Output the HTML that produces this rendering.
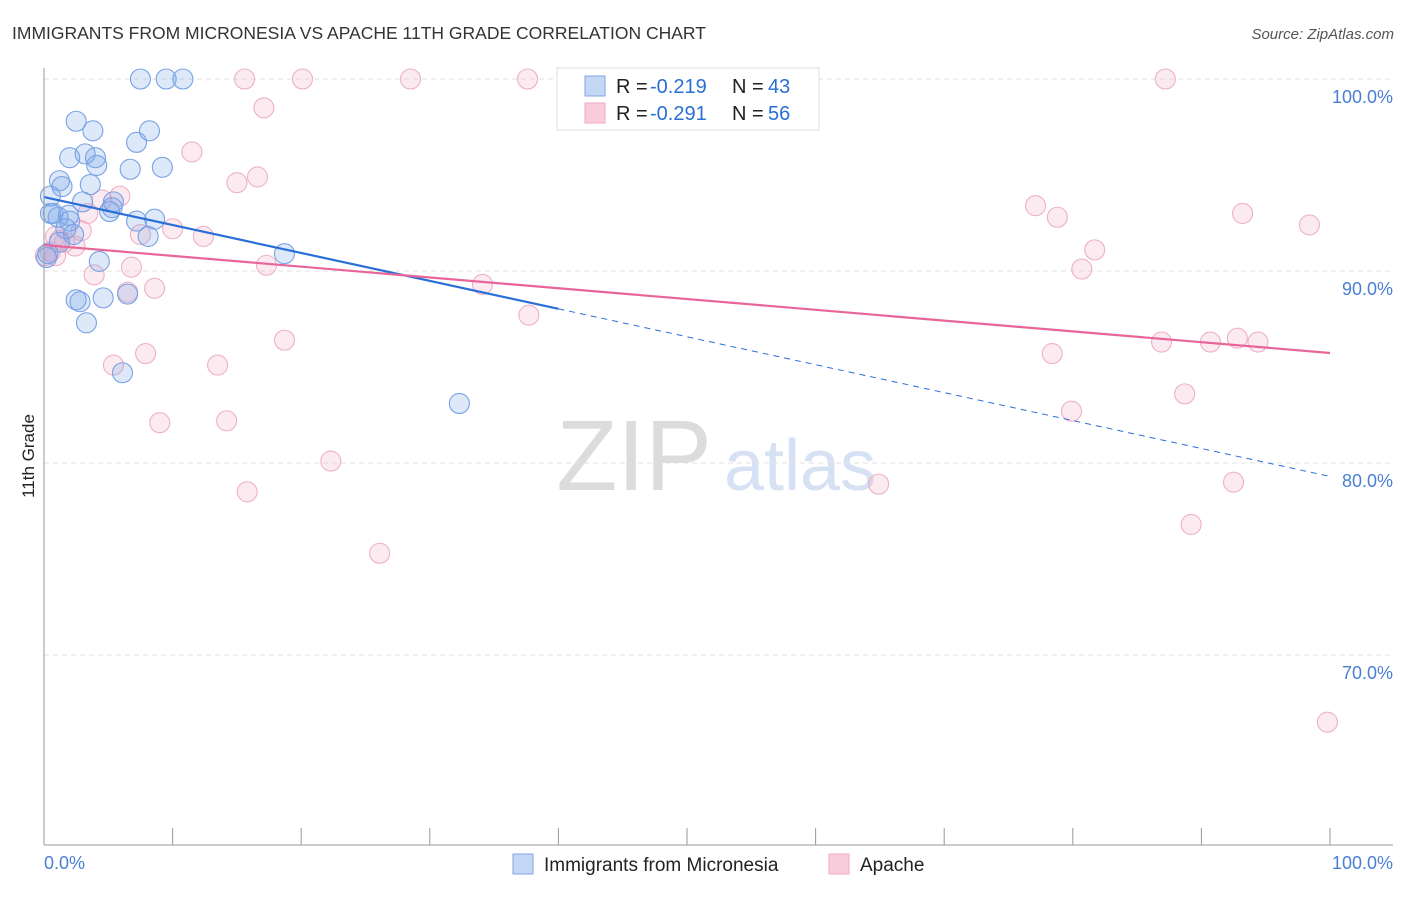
<!DOCTYPE html>
<html><head><meta charset="utf-8"><style>
body{margin:0;background:#fff;font-family:"Liberation Sans",sans-serif;}
svg text{font-family:"Liberation Sans",sans-serif;}
</style></head><body>
<svg id="c" width="1406" height="892">
<text x="12" y="39" font-size="17.5" fill="#333">IMMIGRANTS FROM MICRONESIA VS APACHE 11TH GRADE CORRELATION CHART</text>
<text x="1394" y="39" font-size="15" fill="#555" font-style="italic" text-anchor="end">Source: ZipAtlas.com</text>
<text x="634" y="490" font-size="100" fill="#dcdcdc" font-family="Liberation Serif,serif" text-anchor="middle">ZIP</text>
<text x="800" y="490" font-size="72" fill="#d6e2f3" text-anchor="middle">atlas</text>
<g id="grid"></g><g id="pts"></g><g id="lines"></g>
<line x1="44" y1="68" x2="44" y2="845" stroke="#999"/>
<line x1="44" y1="845" x2="1393" y2="845" stroke="#999"/>
<text transform="translate(34,456) rotate(-90)" font-size="17" fill="#222" text-anchor="middle">11th Grade</text>
<text x="44" y="869" font-size="18" fill="#4a7fd4">0.0%</text>
<text x="1393" y="869" font-size="18" fill="#4a7fd4" text-anchor="end">100.0%</text>
<g>
<rect x="557" y="68" width="262" height="62" fill="#fff" stroke="#ddd"/>
<rect x="585" y="76" width="20" height="20" fill="#c4d8f6" stroke="#7fa6e6"/>
<rect x="585" y="103" width="20" height="20" fill="#f9ccdb" stroke="#eeabc3"/>
<text x="616" y="93" font-size="20" fill="#222">R =</text>
<text x="650" y="93" font-size="20" fill="#2a6fd6">-0.219</text>
<text x="732" y="93" font-size="20" fill="#222">N =</text>
<text x="768" y="93" font-size="20" fill="#2a6fd6">43</text>
<text x="616" y="120" font-size="20" fill="#222">R =</text>
<text x="650" y="120" font-size="20" fill="#2a6fd6">-0.291</text>
<text x="732" y="120" font-size="20" fill="#222">N =</text>
<text x="768" y="120" font-size="20" fill="#2a6fd6">56</text>
</g>
<g>
<rect x="513" y="854" width="20" height="20" fill="#c4d8f6" stroke="#7fa6e6"/>
<text x="544" y="871" font-size="19" fill="#222">Immigrants from Micronesia</text>
<rect x="829" y="854" width="20" height="20" fill="#f9ccdb" stroke="#eeabc3"/>
<text x="860" y="871" font-size="19" fill="#222">Apache</text>
</g>
</svg>
<script>
const yTicks=[100,90,80,70];
const yTickLabels=["100.0%","90.0%","80.0%","70.0%"];
const blueX=[7.5,9.5,10.8,2.5,3.8,8.2,7.2,3.2,2.0,4.0,4.1,6.7,9.2,1.2,1.4,3.6,0.5,3.0,5.4,5.1,0.7,1.1,1.9,2.0,1.7,7.2,8.6,2.3,8.1,1.2,18.7,4.3,0.2,0.3,2.5,2.8,4.6,6.5,3.3,6.1,32.3,5.3,0.5];
const blueY=[100,100,100,97.8,97.3,97.3,96.7,96.1,95.9,95.9,95.5,95.3,95.4,94.7,94.4,94.5,93.9,93.6,93.6,93.1,93.0,92.8,92.9,92.6,92.2,92.6,92.7,91.9,91.8,91.5,90.9,90.5,90.7,90.9,88.5,88.4,88.6,88.8,87.3,84.7,83.1,93.3,93.0];
const pinkX=[15.6,20.1,28.5,37.6,87.2,17.1,11.5,16.6,15.0,5.9,4.5,3.4,10.0,12.4,7.5,2.9,0.9,1.6,2.4,0.5,0.9,6.8,3.9,17.3,8.6,6.5,34.1,37.7,18.7,7.9,5.4,13.5,9.0,14.2,22.3,15.8,26.1,64.9,77.1,78.8,81.7,80.7,93.2,98.4,78.4,86.9,90.7,92.8,94.4,79.9,88.7,92.5,89.2,99.8,1.2,0.1];
const pinkY=[100,100,100,100,100,98.5,96.2,94.9,94.6,93.9,93.7,93.0,92.2,91.8,91.9,92.1,91.8,91.5,91.3,91.0,90.8,90.2,89.8,90.3,89.1,88.9,89.3,87.7,86.4,85.7,85.1,85.1,82.1,82.2,80.1,78.5,75.3,78.9,93.4,92.8,91.1,90.1,93.0,92.4,85.7,86.3,86.3,86.5,86.3,82.7,83.6,79.0,76.8,66.5,91.6,90.8];
const blueTrend=[93.85,79.3];
const pinkTrend=[91.35,85.73];
const NS="http://www.w3.org/2000/svg";
const sx=v=>44+v*12.86, sy=v=>79+(100-v)*19.2;
function mk(t,a,p){const e=document.createElementNS(NS,t);for(const k in a)e.setAttribute(k,a[k]);p.appendChild(e);return e;}
const g=document.getElementById('grid');
yTicks.forEach((t,i)=>{
 const l=mk('line',{x1:44,x2:1393,y1:sy(t),y2:sy(t),stroke:'#e2e2e2','stroke-dasharray':'5,4'},g);
 
 
 const tx=mk('text',{x:1393,y:sy(t)+24,'font-size':18,fill:'#4a7fd4','text-anchor':'end'},g);
 tx.textContent=yTickLabels[i];
 
 
});
for(let i=1;i<=10;i++){
 const t=mk('line',{x1:sx(i*10),x2:sx(i*10),y1:828,y2:845,stroke:'#999'},g);
 
 
}
const P=document.getElementById('pts');
pinkX.forEach((x,i)=>{
 const c=mk('circle',{cx:sx(x),cy:sy(pinkY[i]),r:10,fill:'rgba(244,170,198,0.25)',stroke:'#eeb0c6','stroke-width':1.1},P);
 
 
});
blueX.forEach((x,i)=>{
 const c=mk('circle',{cx:sx(x),cy:sy(blueY[i]),r:10,fill:'rgba(120,165,230,0.25)',stroke:'#78a2e4','stroke-width':1.1},P);
 
 
});
const L=document.getElementById('lines');
const by=x=>blueTrend[0]+(blueTrend[1]-blueTrend[0])*x/100;
const b1=mk('line',{x1:sx(0),y1:sy(by(0)),x2:sx(40),y2:sy(by(40)),stroke:'#2a6fd6','stroke-width':2.2},L);


const b2=mk('line',{x1:sx(40),y1:sy(by(40)),x2:sx(100),y2:sy(by(100)),stroke:'#2a6fd6','stroke-width':1,'stroke-dasharray':'6,5'},L);


const p1=mk('line',{x1:sx(0),y1:sy(pinkTrend[0]),x2:sx(100),y2:sy(pinkTrend[1]),stroke:'#e8659a','stroke-width':2.2},L);


</script>
</body></html>
